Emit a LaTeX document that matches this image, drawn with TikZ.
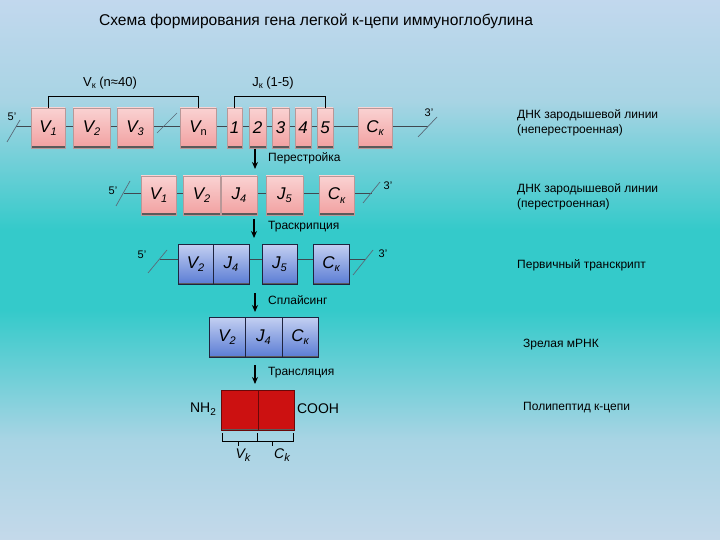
\documentclass[tikz,border=0pt]{standalone}
\usepackage{fontspec}
\setmainfont{Liberation Sans}
\usetikzlibrary{arrows.meta}
\definecolor{bgT}{HTML}{C2D8EE}
\definecolor{bgU}{HTML}{A8D4E4}
\definecolor{bgM}{HTML}{34CACA}
\definecolor{bgB}{HTML}{C4D9EA}
\definecolor{pinkT}{HTML}{FAD2D2}
\definecolor{pinkB}{HTML}{F1A0A0}
\definecolor{pinkD}{HTML}{B89898}
\definecolor{blueT}{HTML}{C4D0F2}
\definecolor{blueB}{HTML}{5A7CD4}
\definecolor{blueD}{HTML}{1E2440}
\definecolor{protR}{HTML}{CC1111}
\definecolor{protD}{HTML}{6A0808}
\definecolor{shadowc}{HTML}{5A5A5A}
\definecolor{linec}{HTML}{404850}
\definecolor{slashc}{HTML}{5A6A78}
\pgfdeclareverticalshading{bgshade}{100bp}{color(0bp)=(bgB); color(25bp)=(bgB); color(34.3bp)=(bgU); color(46.3bp)=(bgM); color(53.7bp)=(bgM); color(65.7bp)=(bgU); color(75bp)=(bgT); color(100bp)=(bgT)}
\newcommand\mysub[1]{\raisebox{-0.35ex}{\fontsize{11}{11}\selectfont #1}}
\newcommand\smsub[1]{\raisebox{-0.35ex}{\fontsize{9}{9}\selectfont #1}}
\newcommand\boxfont{\fontsize{17}{17}\selectfont\itshape}
\tikzset{
  gbox/.style={draw=#1, line width=0.5pt, inner sep=0pt, minimum height=40, anchor=center, font=\boxfont,
    path picture={\draw[shadowc, line width=3pt] (path picture bounding box.south west) -- (path picture bounding box.south east);}},
  pinkbox/.style={gbox=pinkD, top color=pinkT, bottom color=pinkB},
  bluebox/.style={gbox=blueD, top color=blueT, bottom color=blueB},
  protbox/.style={draw=protD, line width=0.6pt, fill=protR, inner sep=0pt, minimum height=40, anchor=center,
    path picture={\draw[shadowc, line width=3pt] (path picture bounding box.south west) -- (path picture bounding box.south east);}},
  dna/.style={draw=linec, line width=0.6pt},
  slashln/.style={draw=slashc, line width=0.7pt},
  brk/.style={draw=black, line width=0.7pt},
  lbl/.style={font=\fontsize{11}{11}\selectfont, inner sep=0pt},
  grp/.style={font=\fontsize{13}{13}\selectfont, inner sep=0pt},
  proc/.style={font=\fontsize{12}{12}\selectfont, inner sep=0pt, anchor=west},
  side/.style={font=\fontsize{12}{15}\selectfont, inner sep=0pt, anchor=west, align=left},
  stepar/.style={-{Stealth[length=7pt,width=6pt]}, line width=1.6pt, black},
}
\begin{document}
\begin{tikzpicture}[x=1pt,y=-1pt]
\useasboundingbox (0,0) rectangle (720,540);
\shade[shading=bgshade] (0,0) rectangle (720,540);

% title
\node[font=\fontsize{15.6}{15.6}\selectfont, inner sep=0pt] (title) at (316,21) {Схема формирования гена легкой к-цепи иммуноглобулина};

% ---------- row 1 ----------
\coordinate (r1L) at (16,126);
\coordinate (r1R) at (428,126);
\draw[dna] (r1L) -- (r1R);
\node[pinkbox, minimum width=34] (r1v1) at (48,128) {V\mysub{1}};
\node[pinkbox, minimum width=37] (r1v2) at (91.5,128) {V\mysub{2}};
\node[pinkbox, minimum width=36] (r1v3) at (135,128) {V\mysub{3}};
\node[pinkbox, minimum width=36] (r1vn) at (198,128) {V\mysub{\upshape n}};
\node[pinkbox, minimum width=15] (r1j1) at (234.5,128) {1};
\node[pinkbox, minimum width=17] (r1j2) at (257.5,128) {2};
\node[pinkbox, minimum width=17] (r1j3) at (280.5,128) {3};
\node[pinkbox, minimum width=16] (r1j4) at (303,128) {4};
\node[pinkbox, minimum width=16] (r1j5) at (325,128) {5};
\node[pinkbox, minimum width=34] (r1ck) at (375,128) {C\mysub{к}};
\draw[slashln] (7,142) -- (20,120);
\draw[slashln] (157,133) -- (177,113);
\draw[slashln] (418,137) -- (437,117);
\node[lbl] (r1p5) at (12,117) {5'};
\node[lbl] (r1p3) at (429,113) {3'};
\draw[brk] (r1v1.north) -- ++(0,-11) coordinate (bv) -| (r1vn.north);
\draw[brk] (r1j1.north) -- ++(0,-11) coordinate (bj) -| (r1j5.north);
\node[grp] (vlab) at (110,83) {V\smsub{к} (n≈40)};
\node[grp] (jlab) at (273,83) {J\smsub{к} (1-5)};

\coordinate (a1s) at (255,149);
\coordinate (a1e) at (255,169);
\draw[stepar] (a1s) -- (a1e);
\node[proc] (p1) at (268,158) {Перестройка};

% ---------- row 2 ----------
\coordinate (r2L) at (124,193);
\coordinate (r2R) at (372,193);
\draw[dna] (r2L) -- (r2R);
\node[pinkbox, minimum width=35, minimum height=39] (r2v1) at (158.5,195.5) {V\mysub{1}};
\node[pinkbox, minimum width=37, minimum height=39] (r2v2) at (201.5,195.5) {V\mysub{2}};
\node[pinkbox, minimum width=36, minimum height=39] (r2j4) at (239,195.5) {J\mysub{4}};
\node[pinkbox, minimum width=37, minimum height=39] (r2j5) at (284.5,195.5) {J\mysub{5}};
\node[pinkbox, minimum width=35, minimum height=39] (r2ck) at (336.5,195.5) {C\mysub{к}};
\draw[slashln] (116,206) -- (130,181);
\draw[slashln] (363,203) -- (380,182);
\node[lbl] (r2p5) at (113,191) {5'};
\node[lbl] (r2p3) at (388,186) {3'};

\coordinate (a2s) at (254,219);
\coordinate (a2e) at (254,238);
\draw[stepar] (a2s) -- (a2e);
\node[proc] (p2) at (268,227) {Траскрипция};

% ---------- row 3 ----------
\coordinate (r3L) at (160,259);
\coordinate (r3R) at (366,259);
\draw[dna] (r3L) -- (r3R);
\node[bluebox, minimum width=35] (r3v2) at (195.5,264) {V\mysub{2}};
\node[bluebox, minimum width=36] (r3j4) at (231,264) {J\mysub{4}};
\node[bluebox, minimum width=35] (r3j5) at (279.5,264) {J\mysub{5}};
\node[bluebox, minimum width=36] (r3ck) at (331,264) {C\mysub{к}};
\draw[slashln] (148,273) -- (167,250);
\draw[slashln] (353,275) -- (373,250);
\node[lbl] (r3p5) at (142,255) {5'};
\node[lbl] (r3p3) at (383,254) {3'};

\coordinate (a3s) at (255,293);
\coordinate (a3e) at (255,312);
\draw[stepar] (a3s) -- (a3e);
\node[proc] (p3) at (268,300) {Сплайсинг};

% ---------- row 4 ----------
\node[bluebox, minimum width=36] (r4v2) at (227,337) {V\mysub{2}};
\node[bluebox, minimum width=37] (r4j4) at (263.5,337) {J\mysub{4}};
\node[bluebox, minimum width=36] (r4ck) at (300,337) {C\mysub{к}};

\coordinate (a4s) at (255,365);
\coordinate (a4e) at (255,384);
\draw[stepar] (a4s) -- (a4e);
\node[proc] (p4) at (268,373) {Трансляция};

% ---------- protein ----------
\node[protbox, minimum width=37] (pv) at (239.5,410) {};
\node[protbox, minimum width=36] (pc) at (276,410) {};
\node[font=\fontsize{14}{14}\selectfont, inner sep=0pt] (nh2) at (203,409) {NH\mysub{\fontsize{10}{10}\selectfont 2}};
\node[font=\fontsize{14}{14}\selectfont, inner sep=0pt] (cooh) at (318,409) {COOH};
\coordinate (b1) at (222,433);
\coordinate (b2) at (257,433);
\coordinate (b3) at (293,433);
\draw[brk] (b1) -- ++(0,8) -| (b2);
\draw[brk] (b2) -- ++(0,8) -| (b3);
\coordinate (t1) at (238,441);
\coordinate (t2) at (272,441);
\draw[brk] (t1) -- ++(0,5);
\draw[brk] (t2) -- ++(0,5);
\node[font=\fontsize{14}{14}\selectfont\itshape, inner sep=0pt] (vk) at (243,455) {V\mysub{k}};
\node[font=\fontsize{14}{14}\selectfont\itshape, inner sep=0pt] (ck) at (282,455) {C\mysub{k}};

% ---------- side labels ----------
\node[side] (s1) at (517,123) {ДНК зародышевой линии\\(неперестроенная)};
\node[side] (s2) at (517,197) {ДНК зародышевой линии\\(перестроенная)};
\node[side] (s3) at (517,265) {Первичный транскрипт};
\node[side] (s4) at (523,345) {Зрелая мРНК};
\node[side] (s5) at (523,408) {Полипептид к-цепи};
\end{tikzpicture}
\end{document}
